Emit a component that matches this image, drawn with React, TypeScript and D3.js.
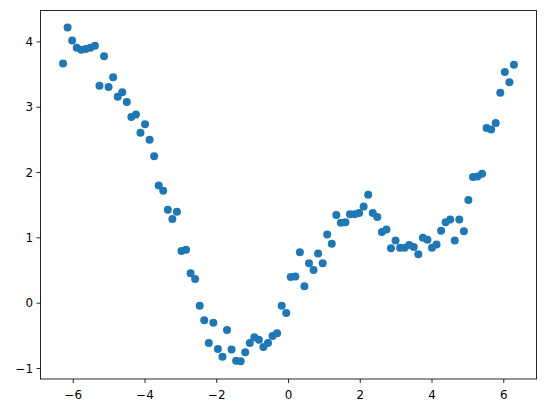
import React from "react";
import * as d3 from "d3";

const yValues: number[] = [
  3.67, 4.22, 4.02, 3.91, 3.88, 3.89, 3.91, 3.94, 3.33, 3.78,
  3.31, 3.46, 3.16, 3.23, 3.08, 2.85, 2.89, 2.61, 2.74, 2.5,
  2.25, 1.8, 1.72, 1.43, 1.29, 1.4, 0.8, 0.82, 0.46, 0.37,
  -0.04, -0.26, -0.61, -0.3, -0.7, -0.82, -0.41, -0.71, -0.88, -0.89,
  -0.75, -0.61, -0.52, -0.56, -0.67, -0.61, -0.5, -0.46, -0.04, -0.15,
  0.4, 0.41, 0.78, 0.26, 0.61, 0.51, 0.76, 0.61, 1.05, 0.91,
  1.35, 1.23, 1.24, 1.36, 1.36, 1.38, 1.48, 1.66, 1.38, 1.32,
  1.09, 1.13, 0.84, 0.96, 0.85, 0.85, 0.89, 0.86, 0.75, 1.0,
  0.97, 0.85, 0.9, 1.11, 1.24, 1.28, 0.96, 1.28, 1.1, 1.58,
  1.93, 1.94, 1.98, 2.68, 2.66, 2.76, 3.22, 3.54, 3.38, 3.65,
];
const xStart = -2 * Math.PI;
const xEnd = 2 * Math.PI;
const xValues: number[] = yValues.map(
  (_, i) => xStart + ((xEnd - xStart) * i) / (yValues.length - 1)
);
const xTicks: number[] = [-6, -4, -2, 0, 2, 4, 6];
const yTicks: number[] = [-1, 0, 1, 2, 3, 4];

const W = 546;
const H = 413;
const left = 40.5;
const right = 536.5;
const top = 10.5;
const bottom = 379;

export default function App() {
  const xPad = (xEnd - xStart) * 0.05;
  const x = d3.scaleLinear().domain([xStart - xPad, xEnd + xPad]).range([left, right]);
  const yMin = d3.min(yValues)!;
  const yMax = d3.max(yValues)!;
  const yPad = (yMax - yMin) * 0.05;
  const y = d3.scaleLinear().domain([-1.16, 4.48]).range([bottom, top]);
  void yPad;
  const fmt = d3.format("d");
  const font = "DejaVu Sans, sans-serif";
  return (
    <svg
      width={W}
      height={H}
      style={{ position: "fixed", left: 0, top: 0, background: "#fff" }}
    >
      <rect x={0} y={0} width={W} height={H} fill="#fff" />
      <g>
        {yValues.map((v, i) => (
          <circle key={i} cx={x(xValues[i])} cy={y(v)} r={4} fill="#1f77b4" />
        ))}
      </g>
      <rect
        x={left}
        y={top}
        width={right - left}
        height={bottom - top}
        fill="none"
        stroke="#000"
        strokeWidth={0.85}
      />
      {xTicks.map((t) => (
        <g key={"x" + t}>
          <line x1={x(t)} x2={x(t)} y1={bottom} y2={bottom + 4} stroke="#000" strokeWidth={0.85} />
          <text
            x={x(t)}
            y={398.5}
            textAnchor="middle"
            fontFamily={font}
            fontSize={11.9}
            fill="#000"
          >
            {fmt(t)}
          </text>
        </g>
      ))}
      {yTicks.map((t) => (
        <g key={"y" + t}>
          <line x1={left - 4} x2={left} y1={y(t)} y2={y(t)} stroke="#000" strokeWidth={0.85} />
          <text
            x={left - 7.5}
            y={y(t)}
            dy="0.36em"
            textAnchor="end"
            fontFamily={font}
            fontSize={11.9}
            fill="#000"
          >
            {fmt(t)}
          </text>
        </g>
      ))}
    </svg>
  );
}
